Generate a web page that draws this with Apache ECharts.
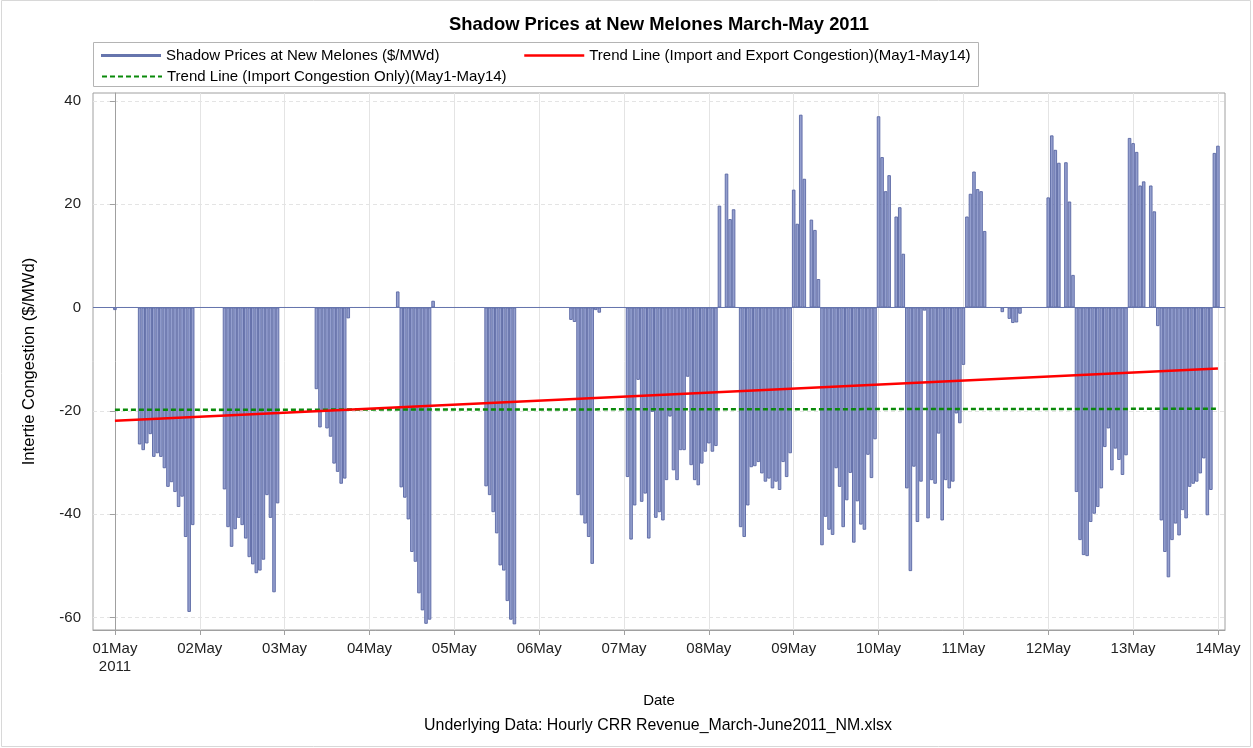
<!DOCTYPE html>
<html><head><meta charset="utf-8">
<script src="https://cdn.jsdelivr.net/npm/echarts@6/dist/echarts.min.js"></script>
<style>html,body{margin:0;padding:0;background:#fff}#c{width:1253px;height:748px}</style>
</head><body><div id="c"></div>
<script>
// ---------- DATA ----------
const dayLabels = ['01May','02May','03May','04May','05May','06May','07May','08May','09May','10May','11May','12May','13May','14May'];
const yearLabel = '2011';
const yTickValues = [-60,-40,-20,0,20,40];
const seriesNames = [
  'Shadow Prices at New Melones ($/MWd)',
  'Trend Line (Import and Export Congestion)(May1-May14)',
  'Trend Line (Import Congestion Only)(May1-May14)'
];
// hourly shadow prices, one array per day (hour 0..23)
const may01 = [-0.5,0,0,0,0,0,0,-26.5,-27.6,-26.3,-24.5,-28.9,-28.2,-28.9,-31.1,-34.7,-33.8,-35.7,-38.6,-36.6,-44.4,-58.9,-42.1,0];
const may02 = [0,0,0,0,0,0,0,-35.2,-42.5,-46.3,-42.9,-40.7,-42.1,-44.7,-48.3,-49.7,-51.4,-50.9,-48.8,-36.3,-40.7,-55.1,-37.9,0];
const may03 = [0,0,0,0,0,0,0,0,0,-15.8,-23.2,-19.8,-23.4,-25.0,-30.2,-31.8,-34.1,-33.1,-2.1,0,0,0,0,0];
const may04 = [0,0,0,0,0,0,0,0,3.1,-34.8,-36.8,-41.0,-47.3,-49.2,-55.3,-58.6,-61.2,-60.4,1.3,0,0,0,0,0];
const may05 = [0,0,0,0,0,0,0,0,0,-34.6,-36.3,-39.6,-43.7,-49.9,-50.9,-56.8,-60.4,-61.3,0,0,0,0,0,0];
const may06 = [0,0,0,0,0,0,0,0,0,-2.4,-2.8,-36.3,-40.2,-41.8,-44.4,-49.6,-0.5,-1.0,0,0,0,0,0,0];
const may07 = [0,-32.8,-44.9,-38.3,-14.0,-37.6,-36.0,-44.7,-20.2,-40.7,-39.6,-41.2,-33.4,-21.1,-31.5,-33.4,-27.6,-27.6,-13.4,-30.5,-33.4,-34.4,-30.2,-27.9];
const may08 = [-26.3,-27.9,-26.8,19.7,0,25.9,17.1,19.0,0,-42.5,-44.4,-38.3,-30.9,-30.7,-29.9,-32.1,-33.7,-33.1,-35.0,-33.7,-35.3,-29.9,-32.8,-28.2];
const may09 = [22.8,16.2,37.3,24.9,0,17.0,15.0,5.5,-46.0,-40.5,-43.0,-44.0,-31.1,-34.7,-42.5,-37.3,-32.0,-45.5,-37.5,-42.0,-43.0,-28.5,-33.0,-25.5];
const may10 = [37.0,29.1,22.5,25.6,0,17.6,19.4,10.4,-35.0,-51.0,-30.8,-41.5,-33.7,-0.6,-40.8,-33.4,-34.1,-24.4,-41.2,-33.4,-35.0,-33.7,-20.5,-22.4];
const may11 = [-11.1,17.6,22.0,26.3,22.9,22.5,14.8,0,0,0,0,-0.9,0,-2.2,-3.0,-2.9,-1.2,0,0,0,0,0,0,0];
const may12 = [21.3,33.3,30.5,28.0,0,28.1,20.5,6.3,-35.7,-45.0,-47.9,-48.1,-41.5,-39.9,-38.6,-35.0,-27.0,-23.4,-31.5,-27.3,-29.5,-32.4,-28.6,32.8];
const may13 = [31.8,30.1,23.6,24.4,0,23.6,18.6,-3.6,-41.2,-47.3,-52.2,-45.0,-41.8,-44.1,-39.2,-40.8,-34.7,-34.1,-33.7,-32.1,-29.2,-40.2,-35.3,29.9];
const may14 = [31.3];
// trend lines: value at first hour and at last hour
const trendBothEnds = [-21.9, -11.8];
const trendImportEnds = [-19.8, -19.6];

// ---------- BUILD ----------
const prices = [].concat(may01,may02,may03,may04,may05,may06,may07,may08,may09,may10,may11,may12,may13,may14);
const lastHour = prices.length - 1;
const priceData = prices.map((v,i)=>[i,v]);
const dayTicks = dayLabels.map((_,i)=>i*24);
const trendBoth = [[0,trendBothEnds[0]],[lastHour,trendBothEnds[1]]];
const trendImport = [[0,trendImportEnds[0]],[lastHour,trendImportEnds[1]]];

const FONT = '"Liberation Sans", Arial, Helvetica, sans-serif';
const GRAY = '#a0a0a0';
const chart = echarts.init(document.getElementById('c'), null, {renderer:'canvas'});
const legendCommon = {orient:'horizontal', padding:0, itemGap:0, textStyle:{fontFamily:FONT,fontSize:15,color:'#000'}, selectedMode:false};
chart.setOption({
  animation:false,
  textStyle:{fontFamily:FONT},
  grid:{left:93,right:28,top:93,bottom:118,show:true,borderColor:GRAY,borderWidth:1,backgroundColor:'transparent'},
  legend:[
    Object.assign({}, legendCommon, {left:101, top:48, itemWidth:60, itemHeight:3, data:[{name:seriesNames[0], icon:'rect', itemStyle:{color:'#6675ad', borderWidth:0}}]}),
    Object.assign({}, legendCommon, {left:523, top:48, itemWidth:60, itemHeight:14, lineStyle:{width:2.5}, data:[{name:seriesNames[1], itemStyle:{opacity:0}}]}),
    Object.assign({}, legendCommon, {left:101, top:69, itemWidth:60, itemHeight:14, data:[{name:seriesNames[2], itemStyle:{opacity:0}}]})
  ],
  xAxis:{
    type:'value', min:-6.2, max:314,
    axisLine:{show:true, onZero:false, lineStyle:{color:GRAY}},
    axisTick:{show:true, customValues:dayTicks, length:5, lineStyle:{color:GRAY}},
    axisLabel:{customValues:dayTicks, margin:10, fontSize:15, color:'#222', lineHeight:18,
      formatter:(v)=>{const i=Math.round(v/24); return i===0 ? dayLabels[0]+'\n'+yearLabel : dayLabels[i];}},
    splitLine:{show:true, lineStyle:{color:'#e4e4e4', width:1}},
    name:'Date', nameLocation:'middle', nameGap:63, nameTextStyle:{fontSize:15, color:'#000'}
  },
  yAxis:{
    type:'value', min:-62.4, max:41.5,
    axisLine:{show:true, lineStyle:{color:GRAY}},
    axisTick:{show:true, customValues:yTickValues, length:5, lineStyle:{color:GRAY}},
    axisLabel:{customValues:yTickValues, margin:12, fontSize:15, color:'#222'},
    splitLine:{show:true, lineStyle:{color:'#e4e4e4', type:[4,3], width:1}},
    name:'Intertie Congestion ($/MWd)', nameLocation:'middle', nameGap:55, nameTextStyle:{fontSize:16.6, color:'#000'}
  },
  graphic:[
    {type:'rect', shape:{x:93.5,y:42.5,width:885,height:44}, style:{fill:'none', stroke:'#b4b4b4', lineWidth:1}, silent:true, z:-1},
    {type:'rect', shape:{x:1.5,y:0.5,width:1249,height:746}, style:{fill:'none', stroke:'#d8d8d8', lineWidth:1}, silent:true, z:-1},
    {type:'text', x:659, y:25, style:{text:'Shadow Prices at New Melones March-May 2011', font:'bold 18.4px '+FONT, fill:'#000', align:'center', textAlign:'center', verticalAlign:'middle', textVerticalAlign:'middle'}},
    {type:'text', x:658, y:726, style:{text:'Underlying Data: Hourly CRR Revenue_March-June2011_NM.xlsx', font:'15.9px '+FONT, fill:'#000', align:'center', textAlign:'center', verticalAlign:'middle', textVerticalAlign:'middle'}}
  ],
  series:[
    {name:seriesNames[0], type:'bar', data:priceData, barWidth:3.5,
      itemStyle:{color:'#949fce', borderColor:'#5a68a4', borderWidth:0.9},
      markLine:{silent:true, symbol:'none', label:{show:false}, lineStyle:{color:'#6675ad', type:'solid', width:1}, data:[{yAxis:0}]},
      z:2},
    {name:seriesNames[1], type:'line', data:trendBoth, symbol:'none', showSymbol:false,
      lineStyle:{color:'#ff0000', width:2.5}, itemStyle:{color:'#ff0000'}, z:4},
    {name:seriesNames[2], type:'line', data:trendImport, symbol:'none', showSymbol:false,
      lineStyle:{color:'#0a8a0a', width:2.5, type:[5,3]}, itemStyle:{color:'#0a8a0a'}, z:3}
  ]
});
</script></body></html>
